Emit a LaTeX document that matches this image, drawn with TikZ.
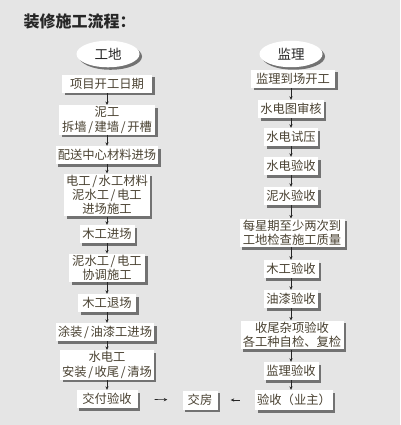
\documentclass[tikz,border=0pt]{standalone}
\usepackage{fontspec}
\usepackage{xcolor}
\setmainfont{Noto Sans CJK SC}
\usetikzlibrary{shapes.geometric,shadows,arrows.meta}

\definecolor{bggray}{HTML}{E5E5E5}
\definecolor{txtbrown}{HTML}{4A4232}
\newcommand\xg{\kern1.6pt/\kern1.6pt}

\tikzset{
	box/.style={fill=white, text=txtbrown, align=center, inner xsep=2pt, inner ysep=1.5pt,
		minimum height=18pt, font=\fontsize{12.3}{14.2}\selectfont,
		drop shadow={shadow xshift=2.5pt, shadow yshift=-2.5pt, fill=black, opacity=.5}},
	head/.style={ellipse, fill=white, text=black!85, minimum width=63pt, minimum height=23pt,
		font=\fontsize{13.5}{15}\selectfont,
		drop shadow={shadow xshift=2.5pt, shadow yshift=-2.5pt, fill=black, opacity=.5}},
	arr/.style={-{Stealth[length=3.5pt,width=3.2pt]}, line width=0.6pt, black!85}
}

\begin{document}
\begin{tikzpicture}[x=1pt,y=-1pt]
	\fill[bggray] (0,0) rectangle (400,425);
	\useasboundingbox (0,0) rectangle (400,425);
	\node[anchor=west, text=black!85, font=\fontsize{16}{18}\selectfont\bfseries] (title) at (20,21) {装修施工流程：};
	% left column
	\node[head] (gd) at (108,54) {工地};
	\node[box, minimum width=90pt] (l1) at (107,84) {项目开工日期};
	\node[box, minimum width=96pt] (l2) at (107,120) {泥工\\拆墙\xg 建墙\xg 开槽};
	\node[box, minimum width=101pt] (l3) at (107,155) {配送中心材料进场};
	\node[box, minimum width=83pt] (l4) at (107,195) {电工\xg 水工材料\\泥水工\xg 电工\\进场施工};
	\node[box, minimum width=55pt] (l5) at (107,234) {木工进场};
	\node[box, minimum width=76pt] (l6) at (107,268) {泥水工\xg 电工\\协调施工};
	\node[box, minimum width=58pt] (l7) at (107,303) {木工退场};
	\node[box, minimum width=98pt] (l8) at (105,332) {涂装\xg 油漆工进场};
	\node[box, minimum width=93pt] (l9) at (107,365) {水电工\\安装\xg 收尾\xg 清场};
	\node[box, minimum width=61pt] (l10) at (107,399) {交付验收};
	% right column
	\node[head] (jl) at (291,54) {监理};
	\node[box, minimum width=84pt] (r1) at (293,79) {监理到场开工};
	\node[box, minimum width=64pt] (r2) at (291,109) {水电图审核};
	\node[box, minimum width=53pt] (r3) at (291,137) {水电试压};
	\node[box, minimum width=54pt] (r4) at (291,166) {水电验收};
	\node[box, minimum width=54pt] (r5) at (291,196) {泥水验收};
	\node[box, minimum width=105pt] (r6) at (292,233) {每星期至少两次到\\工地检查施工质量};
	\node[box, minimum width=55pt] (r7) at (291,269) {木工验收};
	\node[box, minimum width=54pt] (r8) at (291,299) {油漆验收};
	\node[box, minimum width=103pt] (r9) at (292,335) {收尾杂项验收\\各工种自检、复检};
	\node[box, minimum width=55pt] (r10) at (291,371) {监理验收};
	\node[box, minimum width=75pt, minimum height=20pt] (r11) at (294,400) {验收（业主）};
	% handover
	\node[box, minimum width=35pt, minimum height=19pt] (jf) at (200,400) {交房};
	% connectors
	\foreach \a/\b in {l1/l2,l2/l3,l3/l4,l4/l5,l5/l6,l6/l7,l7/l8,l8/l9,l9/l10}
		\draw[arr] (\a.south -| l1) -- (\b.north -| l1);
	\foreach \a/\b in {r1/r2,r2/r3,r3/r4,r4/r5,r5/r6,r6/r7,r7/r8,r8/r9,r9/r10,r10/r11}
		\draw[arr] (\a.south -| r2) -- (\b.north -| r2);
	\draw[arr, shorten <=17pt, shorten >=15pt] (l10) -- (jf);
	\draw[arr, shorten <=15pt, shorten >=13pt] (r11) -- (jf);
\end{tikzpicture}
\end{document}
